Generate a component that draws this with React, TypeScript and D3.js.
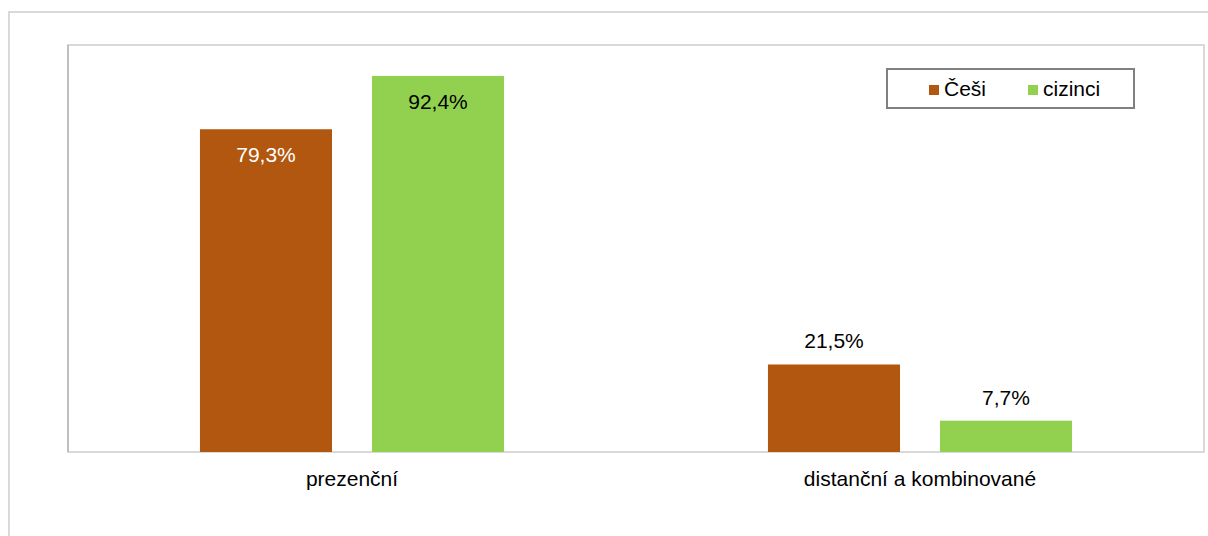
import * as d3 from 'd3';
import React from 'react';

const categories = ['prezenční', 'distanční a kombinované'];
const seriesNames = ['Češi', 'cizinci'];
const cesiValues = [79.3, 21.5];
const ciziValues = [92.4, 7.7];
const seriesColors = ['#B1570F', '#92D050'];
const labelColors = ['#ffffff', '#000000'];

const W = 1208;
const H = 536;
const plot = { left: 68, top: 45, right: 1204, bottom: 452 };
const font = '"Liberation Sans", Arial, sans-serif';

const fmt = (v: number) => v.toFixed(1).replace('.', ',') + '%';

const App: React.FC = () => {
  const x0 = d3.scaleBand<string>().domain(categories).range([plot.left, plot.right]);
  const x1 = d3
    .scaleBand<string>()
    .domain(seriesNames)
    .range([0, x0.bandwidth()])
    .paddingInner(40 / 172)
    .paddingOuter(0.767);
  const y = d3.scaleLinear().domain([0, 100]).range([plot.bottom, plot.top]);

  const seriesValues = [cesiValues, ciziValues];

  return (
    <div style={{ position: 'absolute', left: 0, top: 0 }}>
      <svg width={W} height={H} style={{ display: 'block', fontFamily: font }}>
        <rect x={0} y={0} width={W} height={H} fill="#fff" />
        {/* chart area border */}
        <rect x={9} y={12} width={W + 20} height={H + 20} fill="none" stroke="#d9d9d9" strokeWidth={2} />
        {/* plot area */}
        <rect
          x={plot.left}
          y={plot.top}
          width={plot.right - plot.left}
          height={plot.bottom - plot.top}
          fill="none"
          stroke="#d9d9d9"
          strokeWidth={2}
        />
        <line x1={plot.left} x2={plot.left} y1={plot.top} y2={plot.bottom} stroke="#bfbfbf" strokeWidth={2} />

        {categories.map((c, ci) => (
          <g key={c}>
            {seriesNames.map((s, si) => {
              const v = seriesValues[si][ci];
              const bx = (x0(c) ?? 0) + (x1(s) ?? 0);
              const by = y(v);
              const inside = v > 50;
              return (
                <g key={s}>
                  <rect x={bx} y={by} width={x1.bandwidth()} height={plot.bottom - by} fill={seriesColors[si]} />
                  <text
                    x={bx + x1.bandwidth() / 2}
                    y={inside ? by + 33 : by - 16}
                    textAnchor="middle"
                    fontSize={21}
                    fill={inside ? labelColors[si] : '#000'}
                  >
                    {fmt(v)}
                  </text>
                </g>
              );
            })}
            <text
              x={(x0(c) ?? 0) + x0.bandwidth() / 2}
              y={486}
              textAnchor="middle"
              fontSize={21}
              fill="#000"
            >
              {c}
            </text>
          </g>
        ))}

        {/* legend */}
        <rect x={887} y={69} width={247} height={39} fill="#fff" stroke="#808080" strokeWidth={2} />
        {seriesNames.map((s, i) => {
          const lx = [929, 1028][i];
          return (
            <g key={s}>
              <rect x={lx} y={85} width={10} height={10} fill={seriesColors[i]} />
              <text x={lx + 15} y={96} fontSize={21} fill="#000">
                {s}
              </text>
            </g>
          );
        })}
      </svg>
    </div>
  );
};

export default App;
